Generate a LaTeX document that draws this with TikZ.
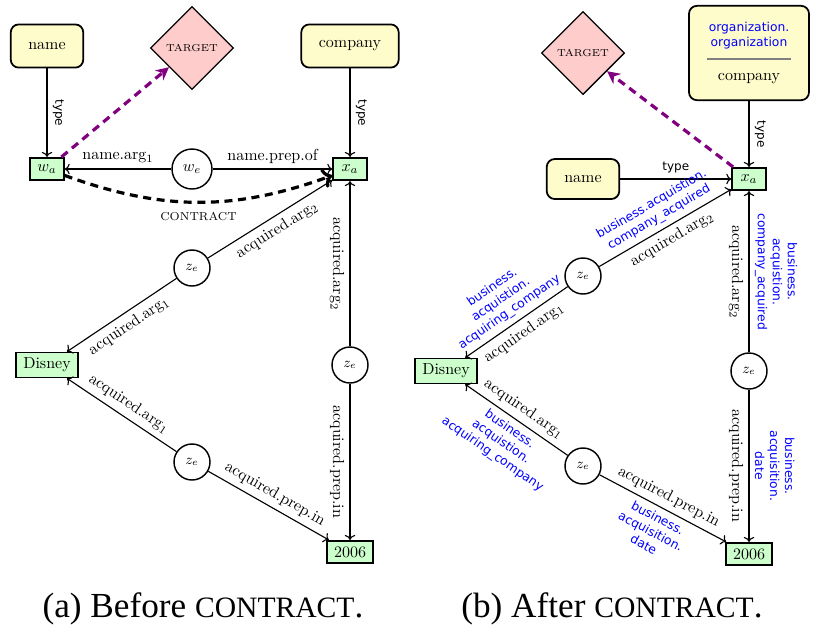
\documentclass[tikz,border=0pt]{standalone}
\usepackage{fontspec}
\newfontfamily\capfont{Liberation Serif}
\newfontfamily\labelsf{DejaVu Sans}
\usetikzlibrary{shapes.geometric, arrows.meta}
\tikzstyle{typebox} = [
    rectangle,
    draw,
    line width = 1.1pt,
    fill = yellow!20,
    text centered,
    rounded corners = 5pt,
    inner xsep = 11pt,
    minimum height = 27pt
]
\tikzstyle{entitybox} = [
    rectangle,
    draw,
    line width = 1.1pt,
    fill = green!20,
    text centered,
    inner xsep = 4.5pt,
    minimum width = 21pt,
    minimum height = 14pt
]
\tikzstyle{eventnode} = [
    circle,
    draw,
    line width = 0.9pt,
    fill = white,
    inner sep = 0pt,
    minimum size = 22.5pt,
    font = \small
]
\tikzstyle{targetnode} = [
    diamond,
    draw,
    thick,
    fill = red!20,
    inner sep = 0pt,
    minimum width = 52pt,
    minimum height = 52pt,
    font = \fontsize{6.3}{7}\selectfont
]
\tikzstyle{rel} = [->, line width = 0.7pt]
\tikzstyle{lbl} = [sloped]
\tikzstyle{typelbl} = [font = \labelsf\fontsize{7.5}{9}\selectfont]
\tikzstyle{fb} = [
    sloped,
    align = center,
    text = blue,
    font = \labelsf\fontsize{7.7}{9.4}\selectfont
]
\tikzstyle{tolink} = [
    dash pattern = on 5pt off 3.5pt,
    line width = 2pt,
    violet,
    -{Stealth[length = 8pt, width = 8pt]}
]
\newcommand{\bluesf}[1]{\textcolor{blue}{\labelsf\fontsize{7.7}{9.4}\selectfont #1}}

\begin{document}
\begin{tikzpicture}[x = 0.625pt, y = -0.625pt]
\useasboundingbox (0,0) rectangle (826,626);

                % (a) before
                \node [typebox] (name1) at (47,46) {name};
                \node [targetnode] (target1) at (192,48) {TARGET};
                \node [typebox] (company1) at (350,46) {company};
                \node [entitybox] (wa1) at (47,169) {$w_a$};
                \node [eventnode, minimum size = 25pt, font = \normalsize] (we1) at (192,169) {$w_e$};
                \node [entitybox] (xa1) at (350,169) {$x_a$};
                \node [eventnode] (ze11) at (192,268) {$z_e$};
                \node [entitybox] (disney1) at (47,365) {Disney};
                \node [eventnode] (ze12) at (350,365) {$z_e$};
                \node [eventnode] (ze13) at (192,462) {$z_e$};
                \node [entitybox] (year1) at (350,552) {2006};

                \draw [rel] (name1) -- node [lbl, above, typelbl] {type} (wa1);
                \draw [rel] (company1) -- node [lbl, above, typelbl] {type} (xa1);
                \draw [tolink] (wa1) -- (target1);
                \draw [rel] (we1) -- node [above] {name.arg$_1$} (wa1);
                \draw [rel] (we1) -- node [above] {name.prep.of} (xa1);
                \draw [->, dash pattern = on 5pt off 3.5pt, line width = 2pt] (wa1) to [bend right = 20] node [below = 2pt, font = \fontsize{7.2}{8}\selectfont] {CONTRACT} (xa1);
                \draw [rel] (ze11) -- node [lbl, below] {acquired.arg$_2$} (xa1);
                \draw [rel] (ze11) -- node [lbl, below] {acquired.arg$_1$} (disney1);
                \draw [<-, line width = 0.7pt] (xa1) -- node [lbl, below] {acquired.arg$_2$} (ze12);
                \draw [rel] (ze12) -- node [lbl, below] {acquired.prep.in} (year1);
                \draw [rel] (ze13) -- node [lbl, above] {acquired.arg$_1$} (disney1);
                \draw [rel] (ze13) -- node [lbl, above] {acquired.prep.in} (year1);

                \node [anchor = base] (capa) at (203,617) {\capfont\fontsize{22}{24}\selectfont (a) Before {\fontsize{18.5}{20}\selectfont CONTRACT}.};

                % (b) after
                \node [targetnode] (target2) at (583,53) {TARGET};
                \node [typebox, minimum width = 75pt, minimum height = 59pt, align = center] (company2) at (749,53) {\bluesf{organization.}\\[-2.5pt]\bluesf{organization}\\[-4pt]\textcolor{gray}{\rule{53pt}{0.8pt}}\\[1pt]company};
                \node [entitybox] (xa2) at (749,179) {$x_a$};
                \node [typebox, minimum height = 25pt] (name2) at (583,179) {name};
                \node [eventnode] (ze21) at (583,276) {$z_e$};
                \node [entitybox] (disney2) at (446,371) {Disney};
                \node [eventnode] (ze22) at (749,371) {$z_e$};
                \node [eventnode] (ze23) at (583,466) {$z_e$};
                \node [entitybox] (year2) at (749,554) {2006};

                \draw [tolink] (xa2) -- (target2);
                \draw [rel] (company2) -- node [lbl, above, typelbl] {type} (xa2);
                \draw [rel] (name2) -- node [above, typelbl] {type} (xa2);
                \draw [rel] (ze21) -- node [lbl, below] {acquired.arg$_2$} node [fb, above] {business.acquistion.\\company\_acquired} (xa2);
                \draw [rel] (ze21) -- node [lbl, below] {acquired.arg$_1$} node [fb, above] {business.\\acquistion.\\acquiring\_company} (disney2);
                \draw [<-, line width = 0.7pt] (xa2) -- node [lbl, below] {acquired.arg$_2$} node [fb, above] {business.\\acquistion.\\company\_acquired} (ze22);
                \draw [rel] (ze22) -- node [lbl, below] {acquired.prep.in} node [fb, above] {business.\\acquisition.\\date} (year2);
                \draw [rel] (ze23) -- node [lbl, above] {acquired.arg$_1$} node [fb, below] {business.\\acquistion.\\acquiring\_company} (disney2);
                \draw [rel] (ze23) -- node [lbl, above] {acquired.prep.in} node [fb, below] {business.\\acquisition.\\date} (year2);

                \node [anchor = base] (capb) at (612,617) {\capfont\fontsize{22}{24}\selectfont (b) After {\fontsize{18.5}{20}\selectfont CONTRACT}.};

\end{tikzpicture}
\end{document}
